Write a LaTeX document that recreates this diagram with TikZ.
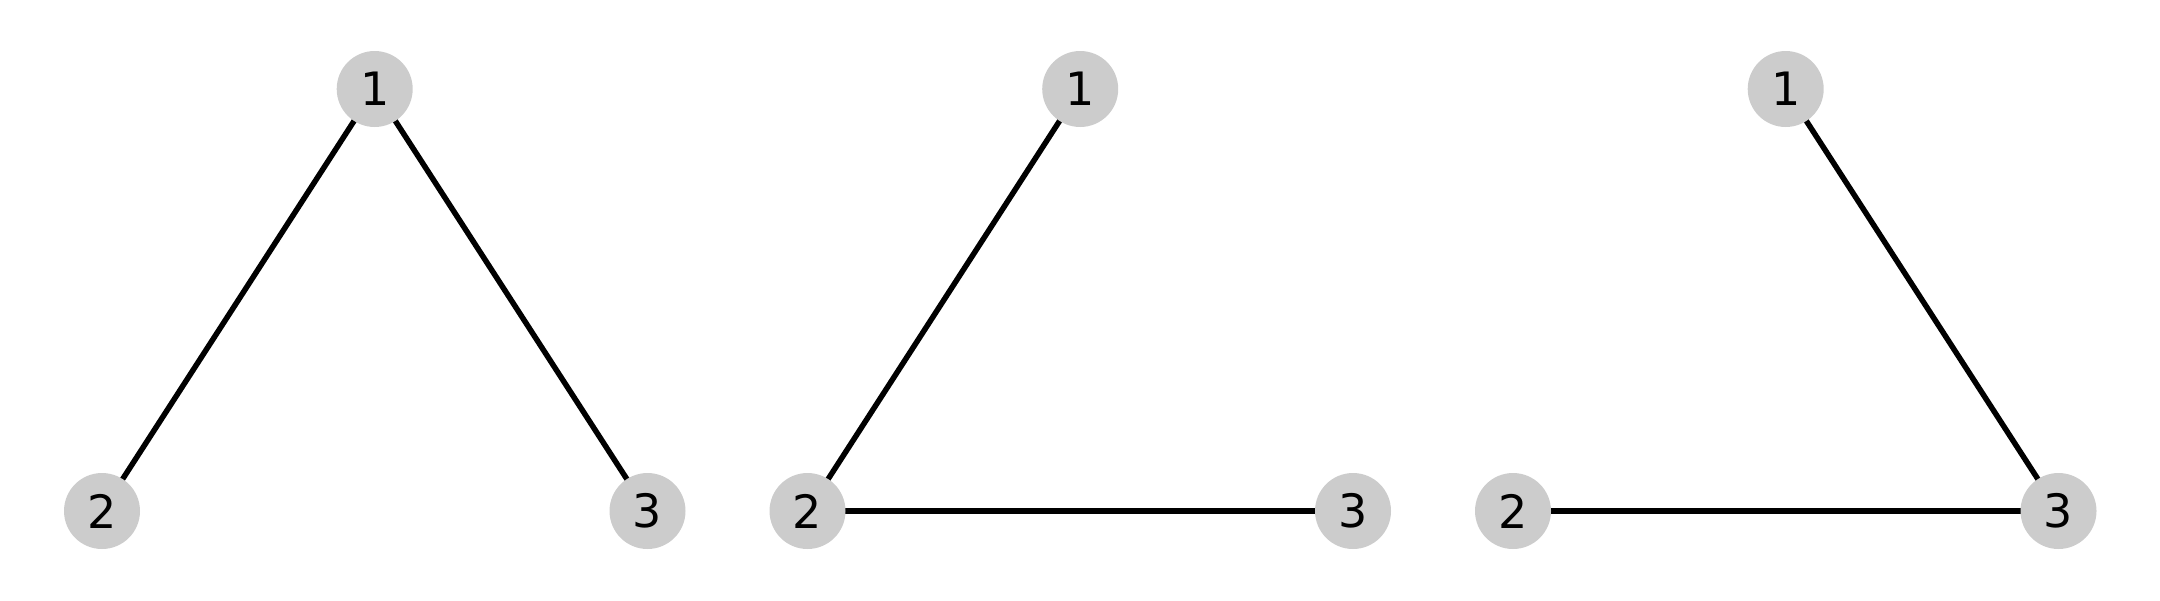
\documentclass[tikz,border=0pt]{standalone}
\usepackage{fontspec}
\setmainfont{DejaVu Sans}
\begin{document}
\begin{tikzpicture}[x=1pt,y=-1pt,
  vert/.style={circle,fill={rgb,255:red,204;green,204;blue,204},minimum size=76pt,inner sep=0pt,font=\fontsize{46}{46}\selectfont},
  edge/.style={line width=5.5pt,black}]
\useasboundingbox (0,0) rectangle (2160,600);
\foreach \p/\ox in {a/0,b/705.5,c/1411}{
  \coordinate (\p1) at (374.7+\ox,89);
  \coordinate (\p2) at (102+\ox,511);
  \coordinate (\p3) at (647.5+\ox,511);
}
\draw[edge] (a1) -- (a2);
\draw[edge] (a1) -- (a3);
\draw[edge] (b1) -- (b2);
\draw[edge] (b2) -- (b3);
\draw[edge] (c1) -- (c3);
\draw[edge] (c2) -- (c3);
\foreach \p in {a,b,c}{
  \node[vert] (n\p1) at (\p1) {1};
  \node[vert] (n\p2) at (\p2) {2};
  \node[vert] (n\p3) at (\p3) {3};
}
\end{tikzpicture}
\end{document}
